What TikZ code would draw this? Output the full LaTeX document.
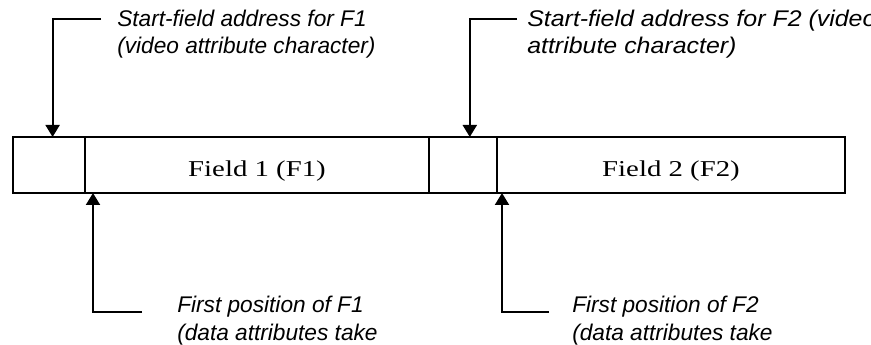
\documentclass[tikz,border=0pt]{standalone}
\usepackage{fontspec}
\setmainfont{Liberation Serif}
\newfontfamily\labelfont{Liberation Sans}
\newfontfamily\widelabelfont[FakeStretch=1.1]{Liberation Sans}
\newfontfamily\fieldfont[FakeStretch=1.27]{Liberation Serif}
\usetikzlibrary{positioning, arrows.meta, calc}

\begin{document}
\begin{tikzpicture}[
x=0.75pt, y=-0.75pt,
cellnode/.style={rectangle,
  draw, line width=1.5pt,
  minimum height=42pt,
  inner sep=0pt, outer sep=0pt,
  text height=17.5pt, text depth=0pt,
  font=\fieldfont\fontsize{17pt}{20pt}\selectfont
},
labelnode/.style={
  align=left, inner sep=0pt,
  font=\labelfont\itshape\fontsize{17pt}{20.5pt}\selectfont
},
>={Triangle[length=9pt,width=10.5pt]}
]
\path[use as bounding box, clip] (0,0) rectangle (871,345);

\node[cellnode, minimum width=54pt, anchor=north west] (attr1) at (13,137)
    {};
\node[cellnode, minimum width=258pt, right=0pt of attr1] (field1)
    {Field 1 (F1)};
\node[cellnode, minimum width=51pt, right=0pt of field1] (attr2)
    {};
\node[cellnode, minimum width=261pt, right=0pt of attr2] (field2)
    {Field 2 (F2)};

% base anchor sits on the last line
\node[labelnode, anchor=base west] (start1) at (117,53.5)
    {Start-field address for F1\\(video attribute character)};
\node[labelnode, anchor=base west,
  font=\widelabelfont\itshape\fontsize{17pt}{20.5pt}\selectfont] (start2) at (527,53.5)
    {Start-field address for F2 (video\\attribute character)};
\node[labelnode, anchor=base west] (first1) at (177,340)
    {First position of F1\\(data attributes take};
\node[labelnode, anchor=base west] (first2) at (572,340)
    {First position of F2\\(data attributes take};

\coordinate (k1) at (101,19);
\coordinate (k2) at (517,19);
\coordinate (k3) at (142,312);
\coordinate (k4) at (549,312);

\draw[->, line width=1.5pt] (k1) -| ($(attr1.north west)!0.55!(attr1.north east)$);
\draw[->, line width=1.5pt] (k2) -| ($(attr2.north west)!0.6!(attr2.north east)$);
\draw[->, line width=1.5pt] (k3) -| ($(field1.south west)+(8,0)$);
\draw[->, line width=1.5pt] (k4) -| ($(field2.south west)+(5,0)$);
\end{tikzpicture}
\end{document}
